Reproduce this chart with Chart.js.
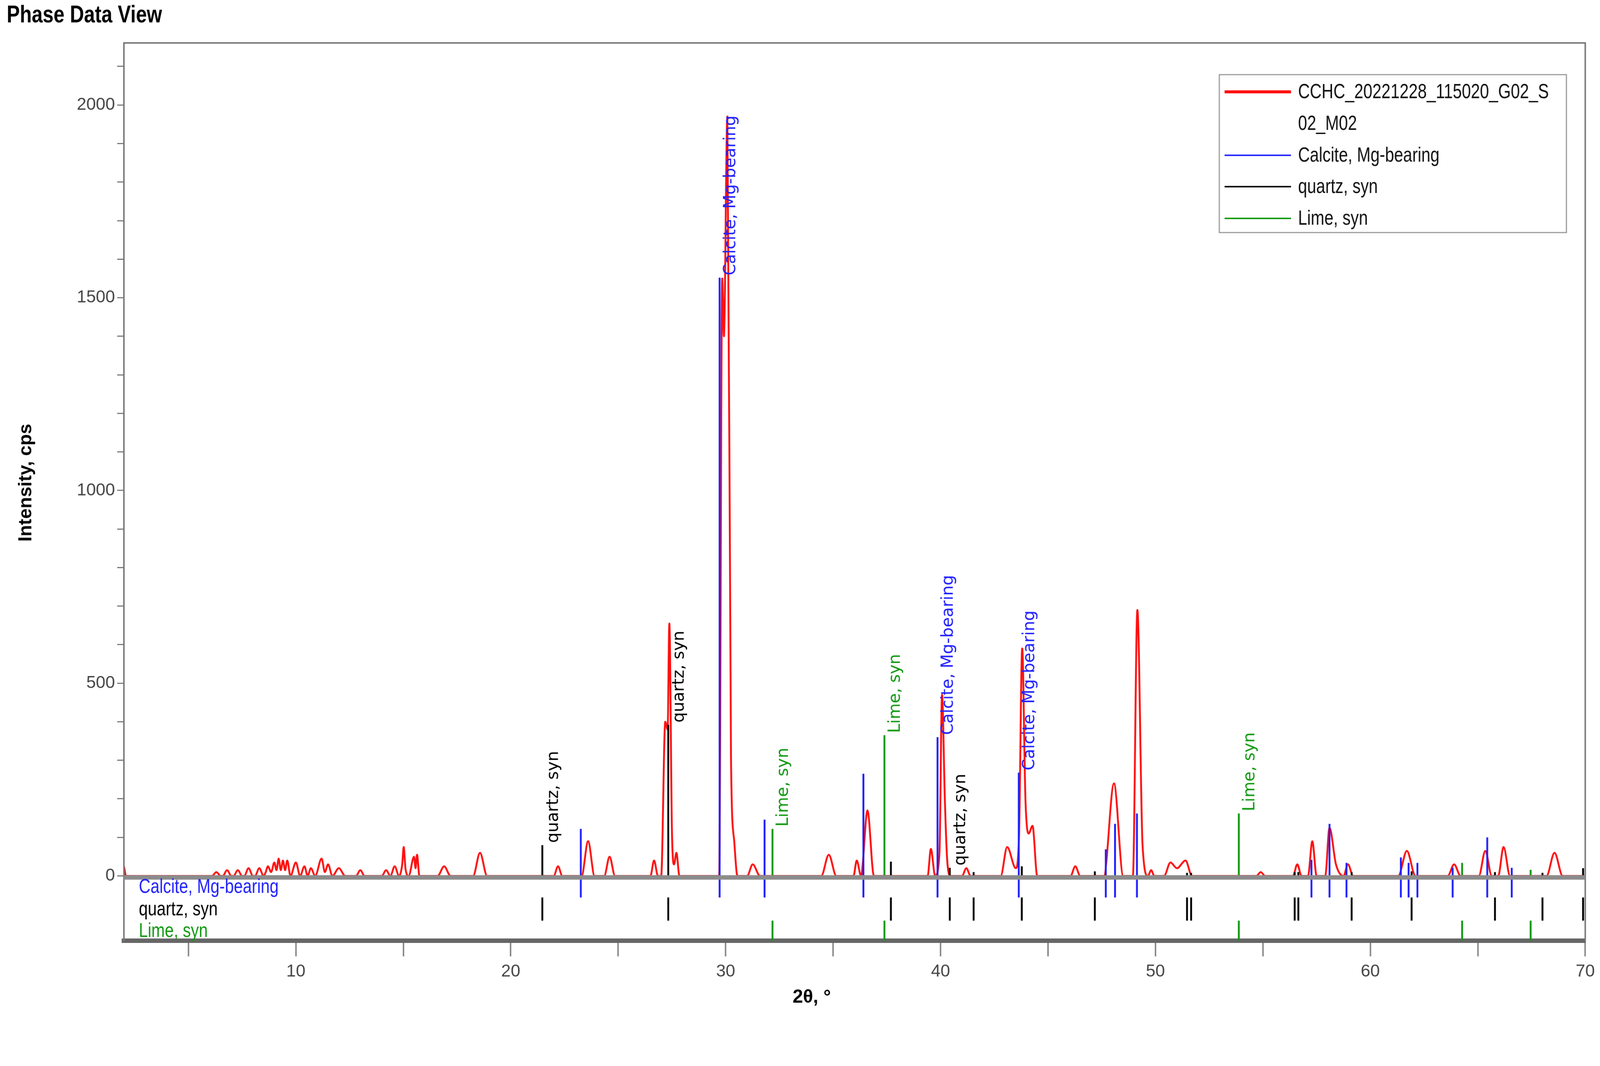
<!DOCTYPE html>
<html>
<head>
<meta charset="utf-8">
<script src="https://cdn.jsdelivr.net/npm/chart.js@4.4.1/dist/chart.umd.min.js"></script>
<style>
  html, body { margin: 0; padding: 0; overflow: hidden; background: #fff; }
  canvas { display: block; }
</style>
</head>
<body>
<canvas id="chart" width="4287" height="2728" style="width:100vw;height:auto"></canvas>
<script>
// measured pattern, 2θ and cps
const patternX = [2.0, 2.1, 2.3, 6.1, 6.3, 6.5, 6.6, 6.8, 7.0, 7.1, 7.3, 7.5, 7.6, 7.8, 8.0, 8.1, 8.3, 8.5, 8.6, 8.7, 8.85, 9.0, 9.1, 9.2, 9.3, 9.4, 9.5, 9.6, 9.75, 10.0, 10.2, 10.4, 10.55, 10.7, 10.9, 11.2, 11.35, 11.5, 11.7, 12.0, 12.3, 12.8, 13.0, 13.2, 14.0, 14.2, 14.4, 14.6, 14.8, 14.95, 15.02, 15.1, 15.25, 15.5, 15.57, 15.64, 15.75, 16.6, 16.9, 17.2, 18.25, 18.57, 18.9, 22.0, 22.2, 22.4, 23.3, 23.6, 23.9, 24.35, 24.6, 24.85, 26.5, 26.67, 26.85, 27.0, 27.19, 27.3, 27.38, 27.5, 27.6, 27.71, 27.85, 29.7, 29.84, 29.92, 30.08, 30.25, 30.4, 30.55, 31.0, 31.26, 31.6, 34.45, 34.8, 35.15, 35.95, 36.1, 36.3, 36.6, 36.9, 39.4, 39.55, 39.75, 39.95, 40.07, 40.2, 40.3, 40.45, 41.0, 41.2, 41.4, 42.8, 43.1, 43.5, 43.65, 43.8, 43.95, 44.1, 44.28, 44.5, 46.05, 46.27, 46.5, 47.6, 48.07, 48.5, 48.95, 49.16, 49.4, 49.65, 49.8, 49.95, 50.4, 50.7, 51.0, 51.4, 51.7, 54.7, 54.9, 55.1, 56.4, 56.6, 56.8, 57.1, 57.3, 57.5, 57.9, 58.1, 58.4, 58.75, 58.96, 59.2, 61.3, 61.7, 62.1, 63.6, 63.9, 64.2, 65.05, 65.35, 65.65, 65.95, 66.2, 66.5, 68.2, 68.57, 68.95, 69.9, 70.0];
const patternY = [25, 0, 0, 0, 10, 0, 0, 15, 0, 0, 15, 0, 0, 20, 0, 0, 20, 0, 10, 25, 10, 35, 15, 45, 15, 40, 15, 40, 0, 35, 0, 25, 0, 20, 0, 45, 10, 30, 0, 20, 0, 0, 15, 0, 0, 15, 0, 25, 0, 30, 75, 20, 0, 50, 20, 55, 0, 0, 25, 0, 0, 60, 0, 0, 25, 0, 0, 90, 0, 0, 50, 0, 0, 40, 0, 0, 400, 380, 655, 120, 30, 60, 0, 0, 1550, 1400, 1970, 300, 90, 0, 0, 30, 0, 0, 55, 0, 0, 40, 0, 170, 0, 0, 70, 0, 60, 470, 200, 50, 0, 0, 20, 0, 0, 75, 20, 100, 590, 200, 110, 130, 0, 0, 25, 0, 0, 240, 0, 0, 690, 80, 0, 15, 0, 0, 35, 20, 40, 0, 0, 10, 0, 0, 30, 0, 0, 90, 0, 0, 125, 30, 0, 30, 0, 0, 65, 0, 0, 30, 0, 0, 65, 0, 0, 75, 0, 0, 60, 0, 0, 0];

// reference phase lines
const calcitePos = [23.26, 29.72, 31.81, 36.41, 39.86, 43.64, 47.69, 48.12, 49.14, 57.26, 58.10, 58.89, 61.42, 61.78, 62.19, 63.83, 65.44, 66.58];
const calciteInt = [122, 1552, 146, 265, 360, 268, 69, 135, 162, 42, 135, 34, 48, 34, 34, 21, 100, 21];
const quartzPos = [21.47, 27.33, 37.69, 40.43, 41.54, 43.78, 47.18, 51.47, 51.66, 56.48, 56.65, 59.13, 61.92, 65.80, 68.01, 69.9];
const quartzInt = [80, 392, 37, 21, 10, 25, 12, 8, 8, 10, 10, 10, 12, 10, 8, 20];
const limePos = [32.18, 37.39, 53.88, 64.27, 67.46];
const limeInt = [122, 365, 162, 34, 16];

const calciteLabelAt = [29.72, 39.86, 43.64];
const quartzLabelAt = [21.47, 27.33, 40.43];
const limeLabelAt = [32.18, 37.39, 53.88];

const xTicks = [5, 10, 15, 20, 25, 30, 35, 40, 45, 50, 55, 60, 65, 70];

const BLUE = '#2020ff', BLACK = '#000000', GREEN = '#119911', RED = '#ff1010';
const SANS = '"Liberation Sans", Arial, sans-serif';

function sticks(pos, ints, lo, hi) {
  const pts = [];
  pos.forEach((p, i) => {
    pts.push({ x: p, y: 0 }, { x: p, y: ints[i] }, { x: p, y: NaN });
    pts.push({ x: p, y: lo }, { x: p, y: hi }, { x: p, y: NaN });
  });
  return pts;
}

// condensed text: squeeze horizontally
function narrowText(ctx, text, x, y, sx) {
  ctx.save();
  ctx.translate(x, y);
  ctx.scale(sx, 1);
  ctx.fillText(text, 0, 0);
  ctx.restore();
}

const phases = [
  { label: 'Calcite, Mg-bearing', color: BLUE, pos: calcitePos, ints: calciteInt, lo: 0, hi: -56, marks: calciteLabelAt, row: -28 },
  { label: 'quartz, syn', color: BLACK, pos: quartzPos, ints: quartzInt, lo: -56, hi: -116, marks: quartzLabelAt, row: -86 },
  { label: 'Lime, syn', color: GREEN, pos: limePos, ints: limeInt, lo: -116, hi: -168, marks: limeLabelAt, row: -142 },
];

const decor = {
  id: 'decor',
  afterDatasetsDraw(chart) {
    const { ctx, chartArea: a, scales: { x, y } } = chart;
    ctx.save();
    // frame
    ctx.strokeStyle = '#777';
    ctx.lineWidth = 4;
    ctx.beginPath();
    ctx.moveTo(a.left, a.bottom); ctx.lineTo(a.left, a.top);
    ctx.lineTo(a.right, a.top); ctx.lineTo(a.right, a.bottom);
    ctx.stroke();
    // zero line
    ctx.fillStyle = '#8c8c8c';
    ctx.fillRect(a.left, y.getPixelForValue(0) - 2, a.right - a.left, 12);

    // peak labels
    ctx.textAlign = 'left';
    ctx.textBaseline = 'middle';
    phases.forEach(ph => {
      ctx.fillStyle = ph.color;
      ctx.font = '44px "DejaVu Sans", sans-serif';
      ph.marks.forEach(m => {
        const i = ph.pos.indexOf(m);
        ctx.save();
        ctx.translate(x.getPixelForValue(m) + 30, y.getPixelForValue(ph.ints[i]) - 6);
        ctx.rotate(-Math.PI / 2);
        ctx.fillText(ph.label, 0, 0);
        ctx.restore();
      });
      // strip row names
      ctx.font = '54px ' + SANS;
      narrowText(ctx, ph.label, a.left + 40, y.getPixelForValue(ph.row) + 2, 0.8);
    });

    // legend
    const lx = 3267, ly = 200;
    ctx.fillStyle = '#fff';
    ctx.fillRect(lx, ly, 930, 423);
    ctx.strokeStyle = '#999';
    ctx.lineWidth = 3;
    ctx.strokeRect(lx, ly, 930, 423);
    const rows = [
      { c: RED, t: 'CCHC_20221228_115020_G02_S', y: 246, w: 8 },
      { c: null, t: '02_M02', y: 331 },
      { c: BLUE, t: phases[0].label, y: 416, w: 4 },
      { c: BLACK, t: phases[1].label, y: 500, w: 4 },
      { c: GREEN, t: phases[2].label, y: 585, w: 4 },
    ];
    ctx.font = '56px ' + SANS;
    ctx.textBaseline = 'middle';
    rows.forEach(r => {
      if (r.c) {
        ctx.strokeStyle = r.c;
        ctx.lineWidth = r.w;
        ctx.beginPath(); ctx.moveTo(3281, r.y); ctx.lineTo(3459, r.y); ctx.stroke();
      }
      ctx.fillStyle = '#111';
      narrowText(ctx, r.t, 3478, r.y + 2, 0.78);
    });

    // titles
    ctx.fillStyle = '#000';
    ctx.font = 'bold 64px ' + SANS;
    ctx.textBaseline = 'middle';
    narrowText(ctx, 'Phase Data View', 18, 42, 0.82);
    ctx.font = 'bold 50px ' + SANS;
    ctx.textAlign = 'center';
    ctx.fillText('2θ, °', 2175, 2672);
    ctx.save();
    ctx.translate(70, 1293);
    ctx.rotate(-Math.PI / 2);
    ctx.fillText('Intensity, cps', 0, 0);
    ctx.restore();
    ctx.restore();
  }
};

const datasets = [
  {
    label: 'pattern',
    data: patternX.map((v, i) => ({ x: v, y: patternY[i] })),
    borderColor: RED,
    borderWidth: 5,
    cubicInterpolationMode: 'monotone',
    pointRadius: 0,
    order: 2,
  },
  ...phases.map(ph => ({
    label: ph.label,
    data: sticks(ph.pos, ph.ints, ph.lo, ph.hi),
    borderColor: ph.color,
    borderWidth: 5,
    pointRadius: 0,
    spanGaps: false,
    order: 1,
  })),
];

new Chart(document.getElementById('chart'), {
  type: 'line',
  data: { datasets },
  options: {
    responsive: false,
    animation: false,
    devicePixelRatio: 1,
    layout: { padding: { top: 115, right: 22, left: 0, bottom: 0 } },
    plugins: { legend: { display: false }, tooltip: { enabled: false } },
    scales: {
      x: {
        type: 'linear', min: 2, max: 70,
        afterBuildTicks: s => { s.ticks = xTicks.map(v => ({ value: v })); },
        afterFit: s => { s.height = 208; },
        grid: { drawOnChartArea: false, drawTicks: true, tickLength: 42, color: '#888', lineWidth: 4 },
        border: { color: '#666', width: 12 },
        ticks: {
          color: '#444', font: { size: 46, family: SANS }, padding: 14, maxRotation: 0,
          callback: v => (v % 10 === 0 ? v : ''),
        },
      },
      y: {
        type: 'linear', min: -168, max: 2161,
        afterBuildTicks: s => {
          const t = [];
          for (let v = 0; v <= 2100; v += 100) t.push({ value: v });
          s.ticks = t;
        },
        afterFit: s => { s.width = 332; },
        grid: { drawOnChartArea: false, drawTicks: true, tickLength: 18, color: '#777', lineWidth: 3 },
        border: { color: '#777', width: 4 },
        ticks: {
          color: '#444', font: { size: 46, family: SANS }, padding: 6,
          callback: v => (v % 500 === 0 ? v : ''),
        },
      },
    },
  },
  plugins: [decor],
});
</script>
</body>
</html>
